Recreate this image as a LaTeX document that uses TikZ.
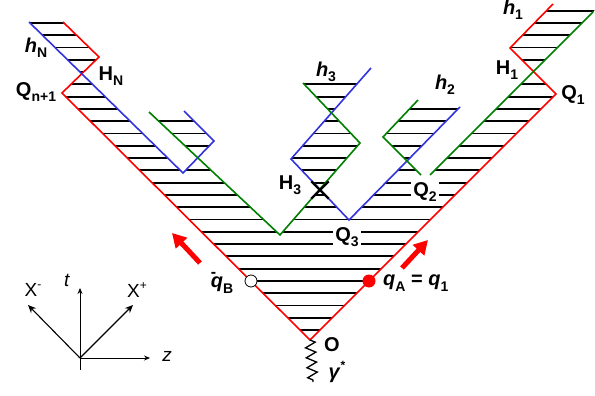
\documentclass[tikz,border=0pt]{standalone}
\usepackage{fontspec}
\setmainfont{Liberation Sans}
\usetikzlibrary{arrows.meta,decorations.pathmorphing,shapes.misc}
\definecolor{strred}{RGB}{255,0,0}
\definecolor{strblue}{RGB}{51,51,221}
\definecolor{strgreen}{RGB}{0,128,0}
\newcommand{\lo}[1]{\raisebox{-0.5ex}{\fontsize{14}{14}\selectfont #1}}
\newcommand{\hi}[1]{\raisebox{0.85ex}{\fontsize{12}{12}\selectfont #1}}

\begin{document}
\begin{tikzpicture}[
  x=1pt, y=-1pt,
  >=Stealth,
  redline/.style={draw=strred, line width=1.6pt, line join=miter},
  blueline/.style={draw=strblue, line width=1.6pt},
  greenline/.style={draw=strgreen, line width=1.6pt},
  hatchline/.style={draw=black, line width=1.8pt},
  lbl/.style={font=\fontsize{20}{22}\selectfont\bfseries, inner sep=1pt},
  boxlbl/.style={lbl, fill=white, inner sep=2pt},
  axlbl/.style={font=\fontsize{19}{21}\selectfont, inner sep=0pt},
  axarrow/.style={->, draw=black, line width=1.1pt, >={Stealth[length=8pt,width=7pt]}},
  motion/.style={-{Triangle[length=14pt,width=15pt]}, draw=strred, line width=5pt}
]
  \useasboundingbox (0,0) rectangle (595,396);
  % string vertices
  \coordinate (O) at (310,340);
  \coordinate (QN1) at (62,93);
  \coordinate (HNv) at (99,57);
  \coordinate (LRtop) at (63,22);
  \coordinate (Q1) at (556,94);
  \coordinate (H1v) at (510,48);
  \coordinate (RRtop) at (553,4);
  \coordinate (BLtop) at (29,22);
  \coordinate (BLlow) at (183,173);
  \coordinate (BLv) at (214,141);
  \coordinate (BLend) at (184,111);
  \coordinate (GLtop) at (149,112);
  \coordinate (GLlow) at (280,235);
  \coordinate (GLv) at (360,143);
  \coordinate (GLend) at (303,83);
  \coordinate (BMtop) at (371,68);
  \coordinate (BMv) at (291,159);
  \coordinate (Q3) at (349,220);
  \coordinate (BMend) at (460,107);
  \coordinate (GRtop) at (418,100);
  \coordinate (GRv) at (383,137);
  \coordinate (GRa) at (421,175);
  \coordinate (GRb) at (430,175);
  \coordinate (GRend) at (593,12);
  \coordinate (Q2v) at (425.5,179.5);

  \begin{scope}[even odd rule]
    \clip (61.5,20) -- (HNv) -- (QN1) -- (O) -- (Q1) -- (H1v) -- (554,3)
      -- (601,4) -- (Q2v) -- (GRv) -- (GRtop) -- (BMend) -- (Q3) -- (BMv) -- (362,78)
      -- (GLend) -- (GLv) -- (GLlow) -- (GLtop) -- (BLend) -- (BLv) -- (BLlow) -- (27,20) -- cycle;
    \foreach \k in {0,...,26} {
      \pgfmathsetmacro{\yy}{330-12.28*\k}
      \draw[hatchline] (0,\yy) -- (600,\yy);
    }
  \end{scope}

  \draw[redline] (LRtop) -- (HNv) -- (QN1) -- (O) -- (Q1) -- (H1v) -- (RRtop);
  \draw[blueline] (BLtop) -- (BLlow) -- (BLv) -- (BLend);
  \draw[blueline] (BMtop) -- (BMv) -- (Q3) -- (BMend);
  \draw[greenline] (GLtop) -- (GLlow) -- (GLv) -- (GLend);
  \draw[greenline] (GRtop) -- (GRv) -- (GRa);
  \draw[greenline] (GRb) -- (GRend);

  \node[cross out, draw=black, line width=2.4pt, minimum size=15pt, inner sep=0pt] (X3) at (320,190) {};

  \node[circle, draw=black, line width=0.8pt, fill=white, minimum size=12pt, inner sep=0pt] (qBc) at (251,281) {};
  \node[circle, fill=strred, minimum size=13pt, inner sep=0pt] (qAc) at (369,281) {};
  \draw[line width=2.6pt] (qBc) -- (qAc);

  \draw[motion] (200,263) coordinate (mLs) -- (172,233) coordinate (mLe);
  \draw[motion] (402,268) coordinate (mRs) -- (428,240) coordinate (mRe);

  \coordinate (gend) at (313,382);
  \draw[line width=1.3pt, decorate, decoration={zigzag, segment length=10pt, amplitude=5pt}] (O) -- (gend);

  \node[lbl] (hN) at (36,48) {\textit{h}\lo{N}};
  \node[lbl] (HN) at (111,76) {H\lo{N}};
  \node[lbl] (Qn1) at (36,92) {Q\lo{n+1}};
  \node[lbl] (h3) at (326,72) {\textit{h}\lo{3}};
  \node[lbl] (h2) at (445,85) {\textit{h}\lo{2}};
  \node[lbl] (h1) at (513,10) {\textit{h}\lo{1}};
  \node[lbl] (H1) at (507,70) {H\lo{1}};
  \node[lbl] (Q1l) at (573,95) {Q\lo{1}};
  \node[lbl] (H3) at (290,185) {H\lo{3}};
  \node[boxlbl] (Q2l) at (425,192) {Q\lo{2}};
  \node[boxlbl] (Q3l) at (347,237) {Q\lo{3}};
  \node[lbl] (qB) at (222,283) {\rlap{\raisebox{0.5em}{\fontsize{16}{16}\selectfont -}}\textit{q}\lo{B}};
  \node[lbl, anchor=west] (qA) at (382,283) {\textit{q}\lo{A} = \textit{q}\lo{1}};
  \node[lbl] (Ol) at (332,345) {O};
  \node[lbl] (gam) at (337,372) {\textit{γ}\hi{*}};

  % light-cone axes
  \coordinate (ax0) at (80,358);
  \coordinate (axT) at (80,288);
  \coordinate (axTb) at (80,370);
  \coordinate (axZ) at (150,358);
  \coordinate (axM) at (28,305);
  \coordinate (axP) at (133,305);
  \draw[->, line width=0.8pt, >={Stealth[length=6pt,width=5pt]}] (axTb) -- (axT);
  \draw[->, line width=0.8pt, >={Stealth[length=6pt,width=5pt]}] (ax0) -- (axZ);
  \draw[axarrow] (ax0) -- (axM);
  \draw[axarrow] (ax0) -- (axP);
  \node[axlbl] (Xm) at (33,290) {X\hi{-}};
  \node[axlbl] (tl) at (67,280) {\textit{t}};
  \node[axlbl] (Xp) at (137,290) {X\hi{+}};
  \node[axlbl] (zl) at (167,356) {\textit{z}};
\end{tikzpicture}
\end{document}
